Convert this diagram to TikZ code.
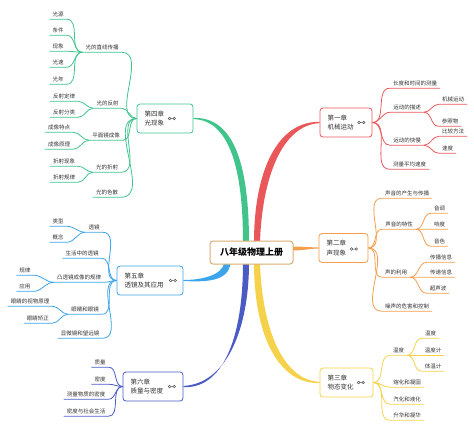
\documentclass[tikz,border=0pt]{standalone}
\usepackage{fontspec}
\setmainfont{Noto Sans CJK SC}
\usepackage{tikz}
\usetikzlibrary{backgrounds, calc}
\definecolor{mapred}{HTML}{E9575B}
\definecolor{maporange}{HTML}{F59E4C}
\definecolor{mapyellow}{HTML}{F6D24A}
\definecolor{mapgreen}{HTML}{40C48C}
\definecolor{mapsky}{HTML}{3CA4EA}
\definecolor{mapnavy}{HTML}{4A5BC4}
\definecolor{maproot}{HTML}{D9AE72}
\definecolor{maptext}{HTML}{333333}
\tikzset{
  linkicon/.pic = {
    \draw[maptext!85, line width=.5pt] (-2.3,0) circle (1.3) (2.3,0) circle (1.3) (-1,0) -- (1,0);
  }
}

\begin{document}
\begin{tikzpicture}[
  x=1pt, y=-1pt,
  leaf/.style = {font=\fontsize{5.5pt}{6.5pt}\selectfont, text=maptext, inner xsep=3pt, inner ysep=2.5pt},
  chap/.style = {
    draw=#1, line width=.8pt, fill=white, rounded corners=3pt,
    minimum height=29pt, inner xsep=7.5pt, align=left,
    font=\fontsize{6.5pt}{9.5pt}\selectfont, text=maptext
  },
  twig/.style = {draw=#1, line width=.8pt}
]
\useasboundingbox (0,0) rectangle (474,429);

\node[draw=maproot, line width=1pt, fill=white, rounded corners=3pt,
      minimum width=83pt, minimum height=23pt,
      font=\fontsize{9pt}{10pt}\selectfont\bfseries] (root) at (251.5,252.5) {八年级物理上册};

\node[chap=mapred, text width=37pt]    (ch1) at (346,122.5)   {第一章\\机械运动};
\node[chap=maporange, text width=34pt] (ch2) at (343.5,248)   {第二章\\声现象};
\node[chap=mapyellow, text width=38pt] (ch3) at (346.5,382.5) {第三章\\物态变化};
\node[chap=mapgreen, text width=41pt]  (ch4) at (165,118.5)   {第四章\\光现象};
\node[chap=mapsky, text width=51pt]    (ch5) at (150,280.5)   {第五章\\透镜及其应用};
\node[chap=mapnavy, text width=45pt]   (ch6) at (153,386.5)   {第六章\\质量与密度};

\pic at ($(ch1.east)+(-11,0)$)   {linkicon};
\pic at ($(ch2.east)+(-14.5,1)$) {linkicon};
\pic at ($(ch3.east)+(-12.5,0)$) {linkicon};
\pic at ($(ch4.east)+(-21.5,0)$) {linkicon};
\pic at ($(ch5.east)+(-10.5,0)$) {linkicon};
\pic at ($(ch6.east)+(-11.5,0)$) {linkicon};

\node[leaf] (c1a)  at (415,83)    {长度和时间的测量};
\node[leaf] (c1b)  at (407,107)   {运动的描述};
\node[leaf] (c1b1) at (453,99)    {机械运动};
\node[leaf] (c1b2) at (450,121)   {参照物};
\node[leaf] (c1c)  at (407,140)   {运动的快慢};
\node[leaf] (c1c1) at (453,131)   {比较方法};
\node[leaf] (c1c2) at (447.5,148) {速度};
\node[leaf] (c1d)  at (409.5,164) {测量平均速度};

\node[leaf] (c2a)  at (407,193)   {声音的产生与传播};
\node[leaf] (c2b)  at (399,224)   {声音的特性};
\node[leaf] (c2b1) at (439.5,208) {音调};
\node[leaf] (c2b2) at (439.5,224) {响度};
\node[leaf] (c2b3) at (439.5,241) {音色};
\node[leaf] (c2c)  at (396,272)   {声的利用};
\node[leaf] (c2c1) at (441,257)   {传播信息};
\node[leaf] (c2c2) at (441,272)   {传递信息};
\node[leaf] (c2c3) at (438,288)   {超声波};
\node[leaf] (c2d)  at (407,306)   {噪声的危害和控制};

\node[leaf] (c3a)  at (398.5,350) {温度};
\node[leaf] (c3a1) at (430.5,333) {温度};
\node[leaf] (c3a2) at (433,350)   {温度计};
\node[leaf] (c3a3) at (433,366)   {体温计};
\node[leaf] (c3b)  at (407,382)   {熔化和凝固};
\node[leaf] (c3c)  at (407,399)   {汽化和液化};
\node[leaf] (c3d)  at (407,415)   {升华和凝华};

\node[leaf] (c4a)  at (102,47)    {光的直线传播};
\node[leaf] (c4a1) at (58,14)     {光源};
\node[leaf] (c4a2) at (58,30)     {条件};
\node[leaf] (c4a3) at (58,46)     {现象};
\node[leaf] (c4a4) at (58,62)     {光速};
\node[leaf] (c4a5) at (58,79)     {光年};
\node[leaf] (c4b)  at (107.5,103) {光的反射};
\node[leaf] (c4b1) at (64,96)     {反射定律};
\node[leaf] (c4b2) at (64,112)    {反射分类};
\node[leaf] (c4c)  at (106,135)   {平面镜成像};
\node[leaf] (c4c1) at (59,127)    {成像特点};
\node[leaf] (c4c2) at (59,144)    {成像原理};
\node[leaf] (c4d)  at (107,167)   {光的折射};
\node[leaf] (c4d1) at (64,161)    {折射现象};
\node[leaf] (c4d2) at (64,177)    {折射规律};
\node[leaf] (c4e)  at (107,192)   {光的色散};

\node[leaf] (c5a)  at (94,227)    {透镜};
\node[leaf] (c5a1) at (58,221)    {类型};
\node[leaf] (c5a2) at (58,237)    {概念};
\node[leaf] (c5b)  at (82,253)    {生活中的透镜};
\node[leaf] (c5c)  at (79,277)    {凸透镜成像的规律};
\node[leaf] (c5c1) at (25,270)    {规律};
\node[leaf] (c5c2) at (25,286)    {应用};
\node[leaf] (c5d)  at (85,309)    {眼睛和眼镜};
\node[leaf] (c5d1) at (30,301)    {眼睛的视物原理};
\node[leaf] (c5d2) at (38,318)    {眼睛矫正};
\node[leaf] (c5e)  at (80,333)    {显微镜和望远镜};

\node[leaf] (c6a)  at (100,362)   {质量};
\node[leaf] (c6b)  at (100,379)   {密度};
\node[leaf] (c6c)  at (86,394)    {测量物质的密度};
\node[leaf] (c6d)  at (86,411)    {密度与社会生活};

\begin{scope}[on background layer]
\fill[mapred] ($(root.north)+(2.5,2)$) .. controls (254,170) and (278,121) .. ($(ch1.west)+(0,-0.6)$)
  -- ($(ch1.west)+(0,0.6)$) .. controls (282,125) and (262,178) .. ($(root.north)+(8.5,2)$) -- cycle;
\fill[mapgreen] ($(root.north)+(-8.5,2)$) .. controls (243,165) and (228,120) .. ($(ch4.east)+(0,0.6)$)
  -- ($(ch4.east)+(0,-0.6)$) .. controls (230,117) and (249,155) .. ($(root.north)+(-2.5,2)$) -- cycle;
\fill[mapyellow] ($(root.south)+(2.5,-2)$) .. controls (254,335) and (278,384) .. ($(ch3.west)+(0,0.6)$)
  -- ($(ch3.west)+(0,-0.6)$) .. controls (282,380) and (262,327) .. ($(root.south)+(8.5,-2)$) -- cycle;
\fill[mapnavy] ($(root.south)+(-8.5,-2)$) .. controls (243,340) and (222,389) .. ($(ch6.east)+(0,0.6)$)
  -- ($(ch6.east)+(0,-0.6)$) .. controls (226,384) and (249,330) .. ($(root.south)+(-2.5,-2)$) -- cycle;
\fill[mapsky] ($(root.south west)+(15,-2)$) .. controls (222,276) and (200,280) .. ($(ch5.east)+(0,-0.5)$)
  -- ($(ch5.east)+(0,0.5)$) .. controls (205,282) and (229,282) .. ($(root.south west)+(21,-2)$) -- cycle;
\fill[maporange] ($(root.east)+(-2,-6)$) .. controls (305,246.5) and (308,247.4) .. ($(ch2.west)+(0,-0.6)$)
  -- ($(ch2.west)+(0,0.6)$) .. controls (308,248.6) and (305,250.5) .. ($(root.east)+(-2,-2)$) -- cycle;

\foreach \n in {c1a,c1b,c1c,c1d}
  \draw[twig=mapred] (ch1.east) to[out=0,in=180] (\n.south west) -- (\n.south east);
\foreach \n in {c1b1,c1b2}
  \draw[twig=mapred] (c1b.south east) to[out=0,in=180] (\n.south west) -- (\n.south east);
\foreach \n in {c1c1,c1c2}
  \draw[twig=mapred] (c1c.south east) to[out=0,in=180] (\n.south west) -- (\n.south east);

\foreach \n in {c2a,c2b,c2c,c2d}
  \draw[twig=maporange] (ch2.east) to[out=0,in=180] (\n.south west) -- (\n.south east);
\foreach \n in {c2b1,c2b2,c2b3}
  \draw[twig=maporange] (c2b.south east) to[out=0,in=180] (\n.south west) -- (\n.south east);
\foreach \n in {c2c1,c2c2,c2c3}
  \draw[twig=maporange] (c2c.south east) to[out=0,in=180] (\n.south west) -- (\n.south east);

\foreach \n in {c3a,c3b,c3c,c3d}
  \draw[twig=mapyellow] (ch3.east) to[out=0,in=180] (\n.south west) -- (\n.south east);
\foreach \n in {c3a1,c3a2,c3a3}
  \draw[twig=mapyellow] (c3a.south east) to[out=0,in=180] (\n.south west) -- (\n.south east);

\foreach \n in {c4a,c4b,c4c,c4d,c4e}
  \draw[twig=mapgreen] (ch4.west) to[out=180,in=0] (\n.south east) -- (\n.south west);
\foreach \n in {c4a1,c4a2,c4a3,c4a4,c4a5}
  \draw[twig=mapgreen] (c4a.south west) to[out=180,in=0] (\n.south east) -- (\n.south west);
\foreach \n in {c4b1,c4b2}
  \draw[twig=mapgreen] (c4b.south west) to[out=180,in=0] (\n.south east) -- (\n.south west);
\foreach \n in {c4c1,c4c2}
  \draw[twig=mapgreen] (c4c.south west) to[out=180,in=0] (\n.south east) -- (\n.south west);
\foreach \n in {c4d1,c4d2}
  \draw[twig=mapgreen] (c4d.south west) to[out=180,in=0] (\n.south east) -- (\n.south west);

\foreach \n in {c5a,c5b,c5c,c5d,c5e}
  \draw[twig=mapsky] (ch5.west) to[out=180,in=0] (\n.south east) -- (\n.south west);
\foreach \n in {c5a1,c5a2}
  \draw[twig=mapsky] (c5a.south west) to[out=180,in=0] (\n.south east) -- (\n.south west);
\foreach \n in {c5c1,c5c2}
  \draw[twig=mapsky] (c5c.south west) to[out=180,in=0] (\n.south east) -- (\n.south west);
\foreach \n in {c5d1,c5d2}
  \draw[twig=mapsky] (c5d.south west) to[out=180,in=0] (\n.south east) -- (\n.south west);

\foreach \n in {c6a,c6b,c6c,c6d}
  \draw[twig=mapnavy] (ch6.west) to[out=180,in=0] (\n.south east) -- (\n.south west);
\end{scope}

\end{tikzpicture}
\end{document}
